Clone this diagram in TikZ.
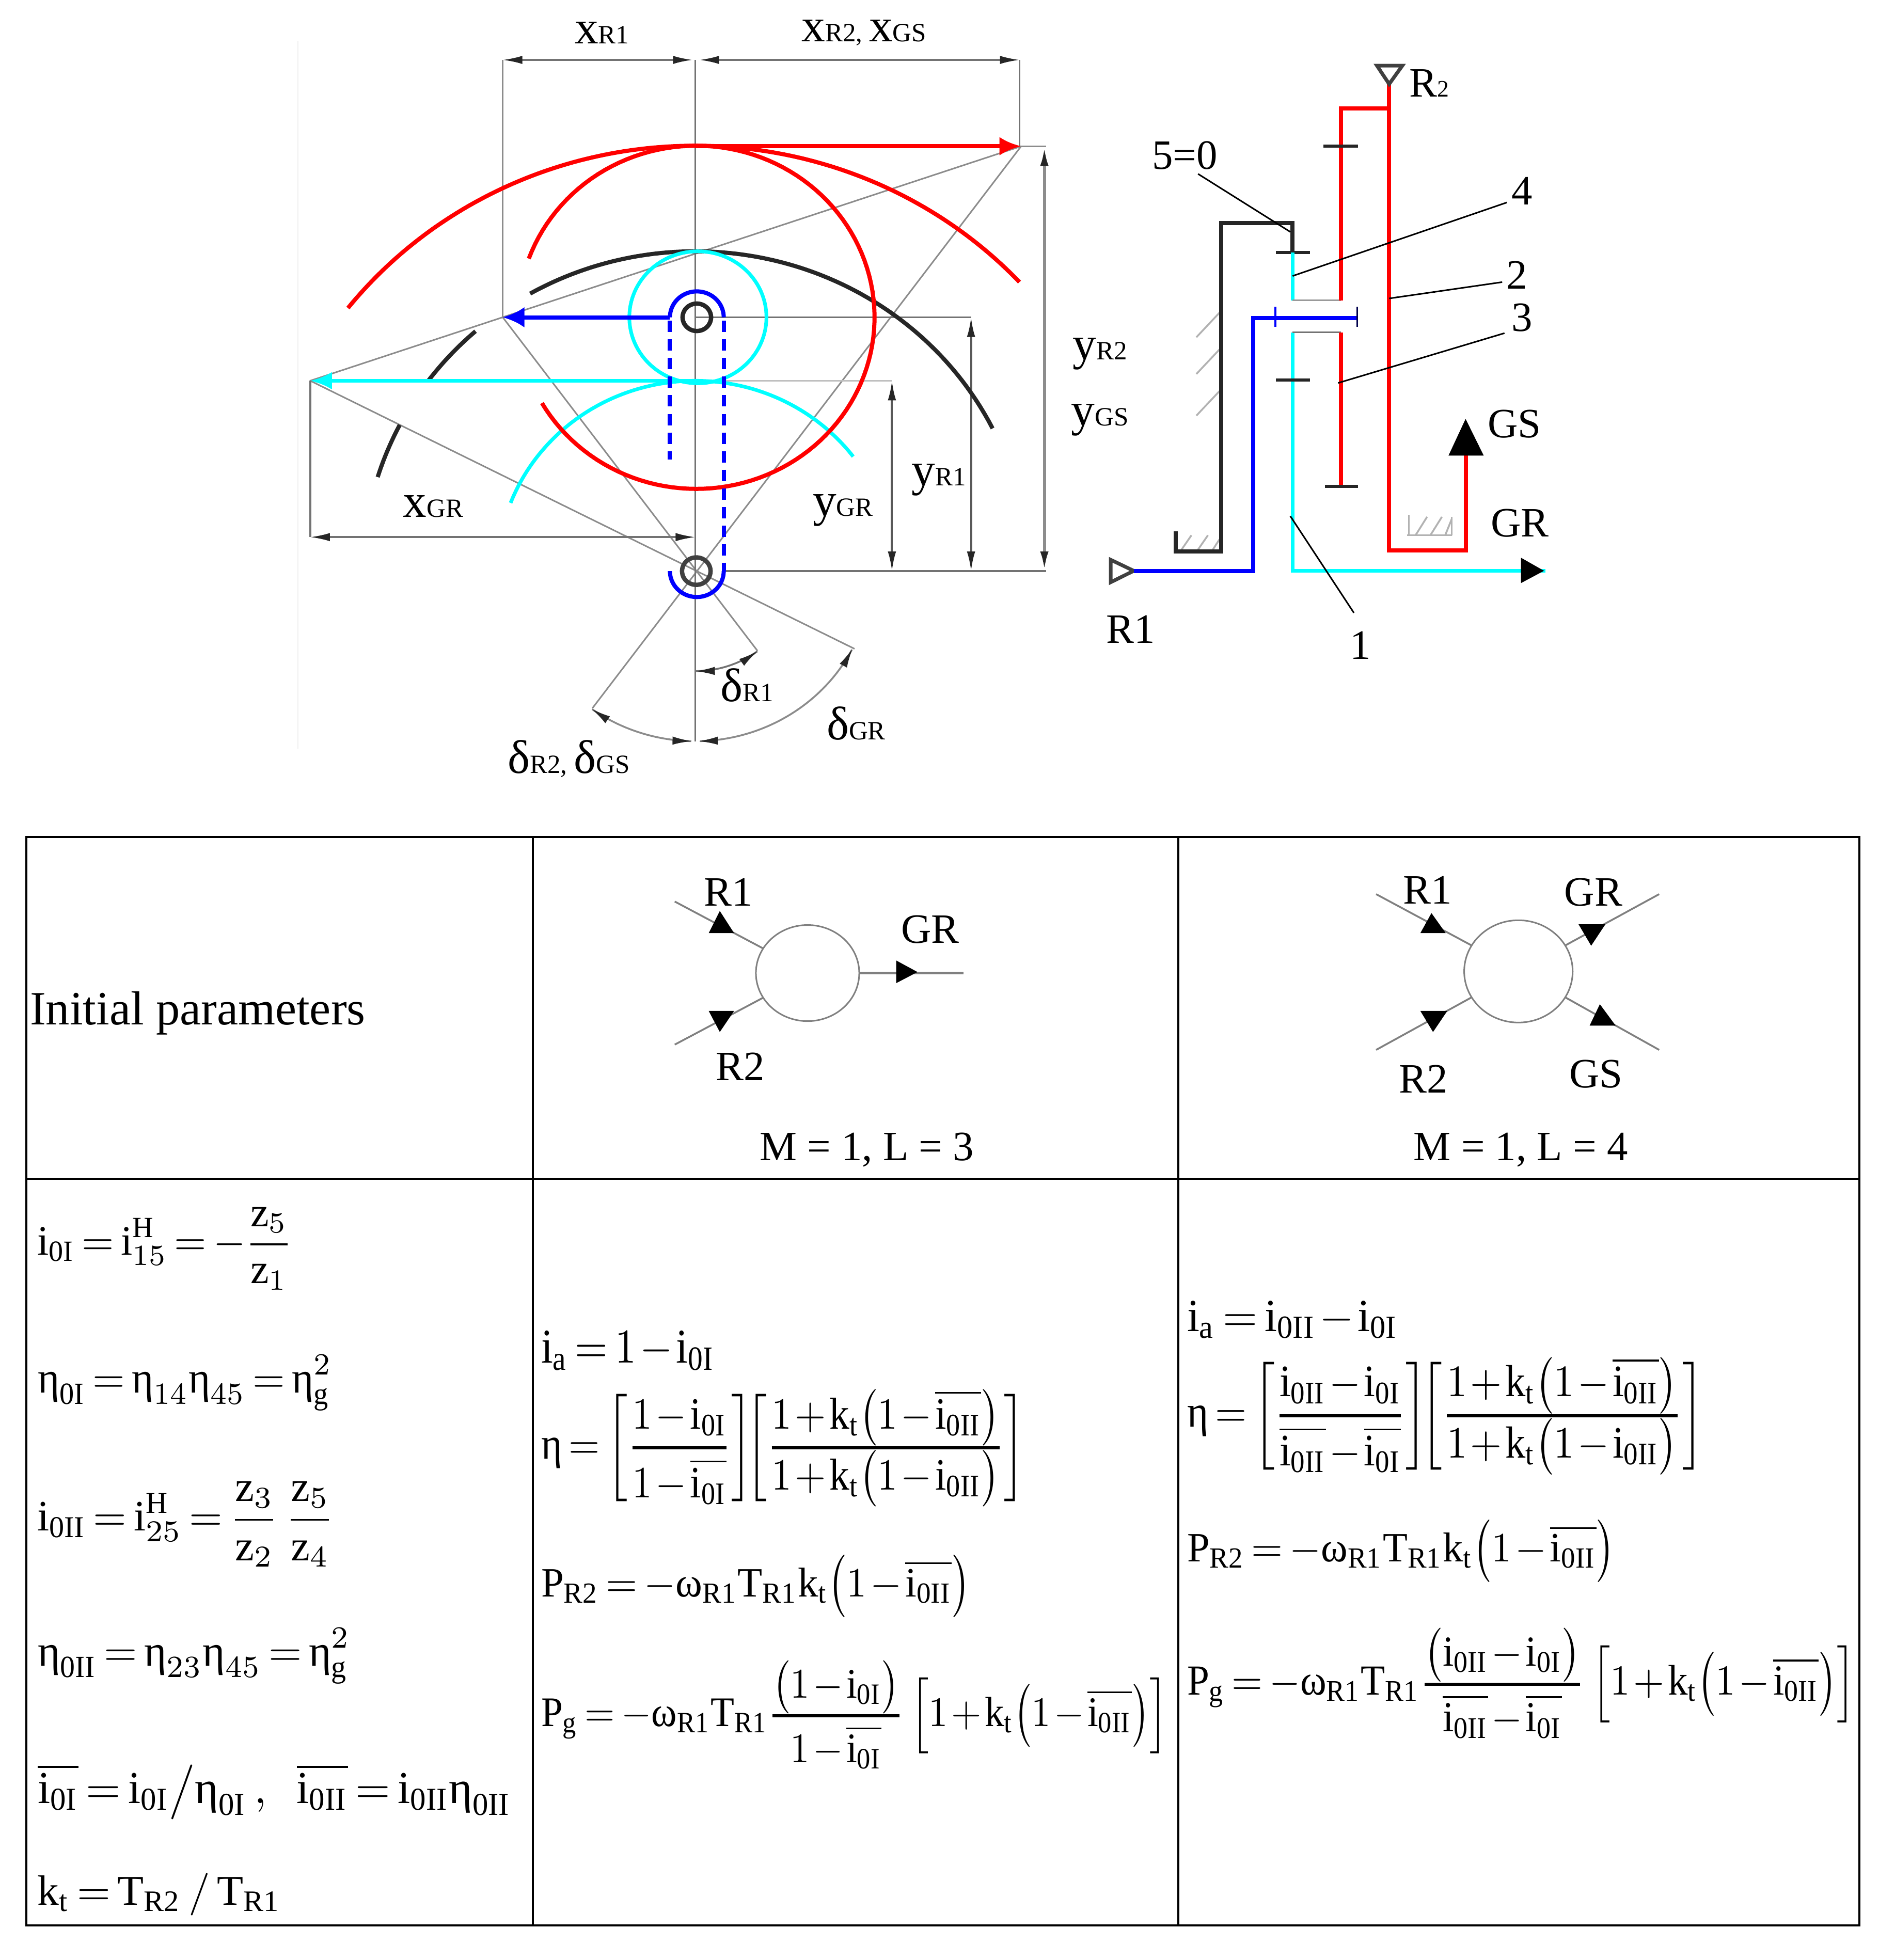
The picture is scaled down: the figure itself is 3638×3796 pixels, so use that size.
\documentclass[tikz,border=0pt]{standalone}
\usepackage{amsmath}
\usepackage{fontspec}
\setmainfont{Liberation Serif}
\usetikzlibrary{arrows.meta,shapes.geometric}
\definecolor{mycyan}{HTML}{00FFFF}
\definecolor{myblue}{HTML}{0000FF}
\definecolor{myred}{HTML}{FF0000}
\definecolor{mygrey}{HTML}{8C8C8C}
\newcommand\lab[2]{{\fontsize{26}{30}\selectfont #1}{\fontsize{14.5}{18}\selectfont #2}}
\newcommand\labb[2]{{\fontsize{23}{28}\selectfont #1}{\fontsize{13}{18}\selectfont #2}}
\newcommand\arcz[5]{plot[domain=#4:#5,samples=120] ({#1+#3*cos(\x)},{#2-#3*sin(\x)})}
\newcommand\ETA{\text{η}}
\newcommand\OM{\text{ω}}
\newcommand\cI[1]{\mathrm{i}_{\mathrm{#1}}}
\newcommand\cO[1]{\overline{\mathrm{i}_{\mathrm{#1}}}}
\newcommand\kt{\mathrm{k}_{\mathrm{t}}}
\newcommand\tfr[2]{\genfrac{}{}{0.7pt}{0}{#1}{#2}}
\newcommand\LP{\mathopen{\vcenter{\hbox{\scalebox{1}[1.25]{$\bigl($}}}}}
\newcommand\RP{\mathclose{\vcenter{\hbox{\scalebox{1}[1.25]{$\bigr)$}}}}}
\newcommand\SLP{\mathopen{\smash{\vcenter{\hbox{\scalebox{1}[1.05]{$\bigl($}}}}}}
\newcommand\SRP{\mathclose{\smash{\vcenter{\hbox{\scalebox{1}[1.05]{$\bigr)$}}}}}}
\newcommand\fm[6]{\node[formula] (#1) at (#2,#3) {\resizebox*{#4cm}{#5cm}{$\thickmuskip=3mu\medmuskip=1.5mu\displaystyle #6$}};}
\tikzset{
  formula/.style={anchor=west,inner sep=0pt,outer sep=0pt},
  txt/.style={inner sep=0pt,outer sep=0pt,font=\fontsize{23}{28}\selectfont},
  gline/.style={draw=mygrey,line width=0.03cm},
  gdark/.style={draw=black!55,line width=0.035cm},
  dimtip/.tip={Latex[length=0.38cm,width=0.16cm,color=black!85]},
  dimline/.style={draw=black!55,line width=0.035cm,dimtip-dimtip},
  dimv/.style={draw=black!65,line width=0.04cm,dimtip-dimtip},
  redk/.style={draw=myred,line width=0.08cm},
  cyank/.style={draw=mycyan,line width=0.07cm},
  bluek/.style={draw=myblue,line width=0.08cm},
  blackk/.style={draw=black!85,line width=0.08cm},
  tickk/.style={draw=black!85,line width=0.06cm},
  hatchk/.style={draw=black!30,line width=0.035cm},
  leader/.style={draw=black,line width=0.03cm},
  opentri/.style={draw=black!75,line width=0.07cm,fill=white,line join=miter},
  cell/.style={draw=black,line width=0.045cm},
  hubk/.style={ellipse,draw=black!50,line width=0.03cm,inner sep=0pt,outer sep=0pt},
  spoke/.style={draw=black!50,line width=0.035cm},
  tipk/.style={fill=black,draw=none}
}
\begin{document}
\begin{tikzpicture}[x=0.01cm,y=-0.01cm]
\useasboundingbox (0,0) rectangle (3638,3796);
\fill[white] (0,0) rectangle (3638,3796);

%% ---------- left drawing ----------
\begin{scope}[shift={(560,0)},x=0.010204cm,y=-0.00982cm]
\coordinate (P) at (770,1125);
\coordinate (T) at (770,625);
\coordinate (RT) at (1388,288);
\coordinate (BT) at (405,625);
\coordinate (CT) at (40,750);
\coordinate (PB) at (770,1460);
\coordinate (E1) at (888,1282);
\coordinate (E2) at (575,1395);
\coordinate (E3) at (1072,1278);
\draw[draw=black!6,line width=0.02cm] (17,80) -- (17,1475);
% grey construction lines
\draw[gline] (RT) -- (CT);
\draw[gline] (BT) -- (E1);
\draw[gline] (RT) -- (E2);
\draw[gline] (CT) -- (E3);
\draw[gdark] (770,118) -- (PB);
\draw[gline] (405,118) -- (BT);
\draw[gdark] (1385,118) -- (1385,288);
\draw[gdark] (40,750) -- (40,1058);
\draw[gdark] (770,625) -- (1293,625);
\draw[draw=black!25,line width=0.035cm] (770,750) -- (1143,750);
\draw[gdark] (824,1125) -- (1435,1125);
\draw[gline] (1385,288) -- (1435,288);
% dimensions
\draw[dimline] (405,118) -- (765,118);
\draw[dimline] (778,118) -- (1385,118);
\draw[dimline] (40,1058) -- (770,1058);
\draw[dimv] (1143,750) -- (1143,1125);
\draw[dimv] (1293,625) -- (1293,1125);
\draw[dimv,draw=black!45,line width=0.06cm] (1432,288) -- (1432,1125);
\draw[dimline] \arcz{770}{1125}{197}{-90}{-53};
\draw[dimline,draw=black!45] \arcz{770}{1125}{335}{-89}{-27};
\draw[dimline,draw=black!45] \arcz{770}{1125}{335}{-91}{-126};
% black arcs
\draw[blackk] \arcz{770}{1125}{630}{119.8}{26.5};
\draw[blackk] \arcz{770}{1125}{630}{131.4}{143.4};
\draw[blackk] \arcz{770}{1125}{630}{152.8}{162.9};
% cyan
\draw[cyank] \arcz{775}{625}{130}{0}{360};
\draw[cyank] \arcz{770}{1125}{375}{159}{37};
\draw[cyank,-{Latex[length=0.42cm,width=0.34cm]}] (770,750) -- (CT);
% red
\draw[redk] \arcz{770}{1125}{838}{141.8}{42.8};
\draw[redk] \arcz{772}{625}{338}{160}{-150};
\draw[redk,line width=0.085cm,-{Latex[length=0.42cm,width=0.36cm]}] (770,288) -- (RT);
% blue
\draw[bluek,-{Latex[length=0.42cm,width=0.4cm]}] (722,625) -- (BT);
\draw[bluek] \arcz{773}{625}{51}{180}{0};
\draw[bluek,dashed,dash pattern=on 0.22cm off 0.14cm] (722,632) -- (722,905);
\draw[bluek,dashed,dash pattern=on 0.22cm off 0.14cm] (824,632) -- (824,1125);
\draw[bluek] \arcz{773}{1125}{51}{0}{-180};
% pivots
\draw[blackk,line width=0.085cm] \arcz{773}{625}{27}{0}{360};
\draw[draw=black!75,line width=0.085cm] \arcz{772}{1125}{27}{0}{360};
% labels
\node[inner sep=0pt] (lx1) at (593,65) {\lab{x}{R1}};
\node[inner sep=0pt] (lx2) at (1090,65) {\lab{x}{R2, }\lab{x}{GS}};
\node[inner sep=0pt] (lx3) at (273,998) {\lab{x}{GR}};
\node[inner sep=0pt] (ly1) at (1050,1005) {\lab{y}{GR}};
\node[inner sep=0pt] (ly2) at (1232,945) {\lab{y}{R1}};
\node[inner sep=0pt] (ld1) at (868,1350) {\lab{δ}{R1}};
\node[inner sep=0pt] (ld2) at (1075,1425) {\lab{δ}{GR}};
\node[inner sep=0pt] (ld3) at (530,1495) {\lab{δ}{R2, }\lab{δ}{GS}};
\end{scope}
\node[inner sep=0pt] (ly3) at (2130,685) {\lab{y}{R2}};
\node[inner sep=0pt] (ly4) at (2130,813) {\lab{y}{GS}};

%% ---------- right drawing ----------
\begin{scope}[shift={(2100,60)},x=0.00638cm,y=-0.00791cm]
% ground
\draw[hatchk] (340,750) -- (410,690);
\draw[hatchk] (340,840) -- (410,780);
\draw[hatchk] (340,942) -- (410,882);
\draw[hatchk] (295,1270) -- (325,1235);
\draw[hatchk] (345,1270) -- (375,1235);
\draw[hatchk] (390,1270) -- (410,1245);
\draw[blackk] (278,1225) -- (278,1275) -- (415,1275) -- (415,470) -- (632,470) -- (632,543);
\draw[tickk] (582,543) -- (685,543);
% blue
\coordinate (R1t) at (150,1322);
\draw[opentri] (80,1295) -- (80,1350) -- (R1t) -- cycle;
\draw[bluek] (R1t) -- (513,1322) -- (513,703) -- (828,703);
\draw[bluek,line width=0.035cm] (580,675) -- (580,725);
\draw[bluek,line width=0.035cm,draw=black!70!blue] (828,675) -- (828,725);
% cyan
\draw[cyank] (632,543) -- (632,660);
\draw[cyank] (632,738) -- (632,1322) -- (1335,1322);
\draw[cyank] (1380,1322) -- (1400,1322);
\fill (1325,1290) -- (1325,1352) -- (1395,1322) -- cycle;
\draw[draw=black!40,line width=0.03cm] (632,660) -- (778,660);
\draw[draw=black!55,line width=0.03cm] (632,738) -- (778,738);
\draw[tickk] (582,855) -- (685,855);
% red
\draw[redk] (778,660) -- (778,190) -- (925,190);
\draw[tickk] (725,282) -- (830,282);
\draw[redk] (778,738) -- (778,1115);
\draw[tickk] (730,1115) -- (830,1115);
\draw[redk] (925,130) -- (925,1272) -- (1158,1272) -- (1158,1040);
\fill (1105,1040) -- (1212,1040) -- (1157,950) -- cycle;
\draw[opentri] (888,85) -- (965,85) -- (925,130) -- cycle;
% hatch block
\draw[hatchk] (980,1235) -- (1115,1235);
\draw[hatchk] (985,1185) -- (985,1235);
\draw[hatchk] (1005,1235) -- (1040,1190);
\draw[hatchk] (1050,1235) -- (1085,1190);
\draw[hatchk] (1095,1235) -- (1115,1195);
\draw[hatchk] (1115,1190) -- (1115,1235);
% labels
\node[txt] (n50) at (305,305) {5=0};
\node[txt] (n4) at (1328,392) {4};
\node[txt] (n2) at (1312,598) {2};
\node[txt] (n3) at (1328,702) {3};
\node[txt] (n1) at (838,1505) {1};
\node[txt] (nR2) at (1047,128) {\labb{R}{2}};
\node[txt] (nGS) at (1305,962) {GS};
\node[txt] (nGR) at (1322,1205) {GR};
\node[txt] (nR1) at (140,1465) {R1};
% leaders
\coordinate (a50) at (345,350);
\coordinate (b50) at (625,492);
\coordinate (a4) at (1282,420);
\coordinate (b4) at (632,600);
\coordinate (a2) at (1268,615);
\coordinate (b2) at (925,655);
\coordinate (a3) at (1275,740);
\coordinate (b3) at (770,862);
\coordinate (a1) at (818,1425);
\coordinate (b1) at (625,1188);
\draw[leader] (a50) -- (b50);
\draw[leader] (a4) -- (b4);
\draw[leader] (a2) -- (b2);
\draw[leader] (a3) -- (b3);
\draw[leader] (a1) -- (b1);
\end{scope}

%% ---------- table ----------
\coordinate (tl) at (51,1621);
\coordinate (tr) at (3601,1621);
\coordinate (bl) at (51,3729);
\coordinate (br) at (3601,3729);
\draw[cell] (tl) -- (tr) -- (br) -- (bl) -- cycle;
\draw[cell] (51,2283) -- (3601,2283);
\draw[cell] (1032,1621) -- (1032,3729);
\draw[cell] (2282,1621) -- (2282,3729);
\node[formula,font=\fontsize{26.3}{30}\selectfont] (init) at (58,1962) {Initial parameters};

%% ---------- small graphs ----------
\begin{scope}[shift={(1100,1640)},x=0.0153cm,y=-0.00408cm]
\node[hubk,minimum width=2cm,minimum height=1.86cm] (hubA) at (303,600) {};
\coordinate (A1) at (135,260);
\coordinate (A2) at (135,940);
\coordinate (A3) at (500,600);
\draw[spoke] (A1) -- (hubA.151);
\draw[spoke] (A2) -- (hubA.209);
\draw[spoke,line width=0.05cm] (hubA.east) -- (A3);
\fill[tipk] (192,305) -- (178,410) -- (210,410) -- cycle;
\fill[tipk] (192,880) -- (178,780) -- (210,780) -- cycle;
\fill[tipk] (415,540) -- (415,648) -- (442,595) -- cycle;
\node[txt] (tA1) at (203,215) {R1};
\node[txt] (tA2) at (458,392) {GR};
\node[txt] (tA3) at (218,1045) {R2};
\node[txt] (tA4) at (378,1440) {M = 1, L = 3};
\node[hubk,minimum width=2.1cm,minimum height=1.98cm] (hubB) at (1202,592) {};
\coordinate (B1) at (1022,225);
\coordinate (B2) at (1380,225);
\coordinate (B3) at (1022,965);
\coordinate (B4) at (1380,965);
\draw[spoke] (B1) -- (hubB.151);
\draw[spoke] (B2) -- (hubB.29);
\draw[spoke] (B3) -- (hubB.209);
\draw[spoke] (B4) -- (hubB.331);
\fill[tipk] (1092,315) -- (1078,410) -- (1110,410) -- cycle;
\fill[tipk] (1278,368) -- (1312,368) -- (1294,470) -- cycle;
\fill[tipk] (1078,780) -- (1112,780) -- (1094,880) -- cycle;
\fill[tipk] (1305,748) -- (1292,850) -- (1325,850) -- cycle;
\node[txt] (tB1) at (1087,205) {R1};
\node[txt] (tB2) at (1297,215) {GR};
\node[txt] (tB3) at (1082,1103) {R2};
\node[txt] (tB4) at (1300,1080) {GS};
\node[txt] (tB5) at (1205,1440) {M = 1, L = 4};
\end{scope}

%% ---------- formulas, column 1 ----------
\fm{fa}{72}{2418}{4.94}{1.60}{\cI{0I}=\mathrm{i}_{15}^{\mathrm{H}}=-\frac{\mathrm{z}_5}{\mathrm{z}_1}}
\fm{fb}{73}{2678}{5.70}{1.09}{\ETA_{\mathrm{0I}}=\ETA_{14}\ETA_{45}=\ETA_{\mathrm{g}}^{2}}
\fm{fc}{72}{2952}{5.75}{1.65}{\cI{0II}=\mathrm{i}_{25}^{\mathrm{H}}=\frac{\mathrm{z}_3}{\mathrm{z}_2}\,\frac{\mathrm{z}_5}{\mathrm{z}_4}}
\fm{fd}{73}{3207}{6.05}{1.09}{\ETA_{\mathrm{0II}}=\ETA_{23}\ETA_{45}=\ETA_{\mathrm{g}}^{2}}
\fm{fe}{73}{3470}{9.17}{1.07}{\cO{0I}=\cI{0I}\big/\ETA_{\mathrm{0I}}\,,\enspace\cO{0II}=\cI{0II}\ETA_{\mathrm{0II}}}
\fm{ff}{73}{3669}{4.71}{0.82}{\kt=\mathrm{T}_{\mathrm{R2}}\,/\,\mathrm{T}_{\mathrm{R1}}}

%% ---------- formulas, column 2 ----------
\fm{ga}{1048}{2616}{3.36}{0.77}{\cI{a}=1-\cI{0I}}
\fm{gb}{1048}{2803}{9.37}{2.21}{\ETA=\left[\tfr{1-\cI{0I}}{1-\cO{0I}}\right]\!\!\left[\tfr{1+\kt\SLP 1-\cO{0II}\SRP}{1+\kt\SLP 1-\cI{0II}\SRP}\right]}
\fm{gc}{1048}{3072}{8.31}{1.21}{\mathrm{P}_{\mathrm{R2}}=-\OM_{\mathrm{R1}}\mathrm{T}_{\mathrm{R1}}\kt\LP 1-\cO{0II}\RP}
\fm{gd}{1048}{3330}{12.13}{1.92}{\mathrm{P}_{\mathrm{g}}=-\OM_{\mathrm{R1}}\mathrm{T}_{\mathrm{R1}}\tfr{\SLP 1-\cI{0I}\SRP}{1-\cO{0I}}\left[1+\kt\LP 1-\cO{0II}\RP\right]}

%% ---------- formulas, column 3 ----------
\fm{ha}{2299}{2556}{4.09}{0.73}{\cI{a}=\cI{0II}-\cI{0I}}
\fm{hb}{2299}{2741}{10.00}{2.22}{\ETA=\left[\tfr{\cI{0II}-\cI{0I}}{\cO{0II}-\cO{0I}}\right]\!\!\left[\tfr{1+\kt\SLP 1-\cO{0II}\SRP}{1+\kt\SLP 1-\cI{0II}\SRP}\right]}
\fm{hc}{2299}{3004}{8.28}{1.21}{\mathrm{P}_{\mathrm{R2}}=-\OM_{\mathrm{R1}}\mathrm{T}_{\mathrm{R1}}\kt\LP 1-\cO{0II}\RP}
\fm{hd}{2299}{3269}{12.94}{1.95}{\mathrm{P}_{\mathrm{g}}=-\OM_{\mathrm{R1}}\mathrm{T}_{\mathrm{R1}}\tfr{\SLP\cI{0II}-\cI{0I}\SRP}{\cO{0II}-\cO{0I}}\left[1+\kt\LP 1-\cO{0II}\RP\right]}
\end{tikzpicture}
\end{document}
